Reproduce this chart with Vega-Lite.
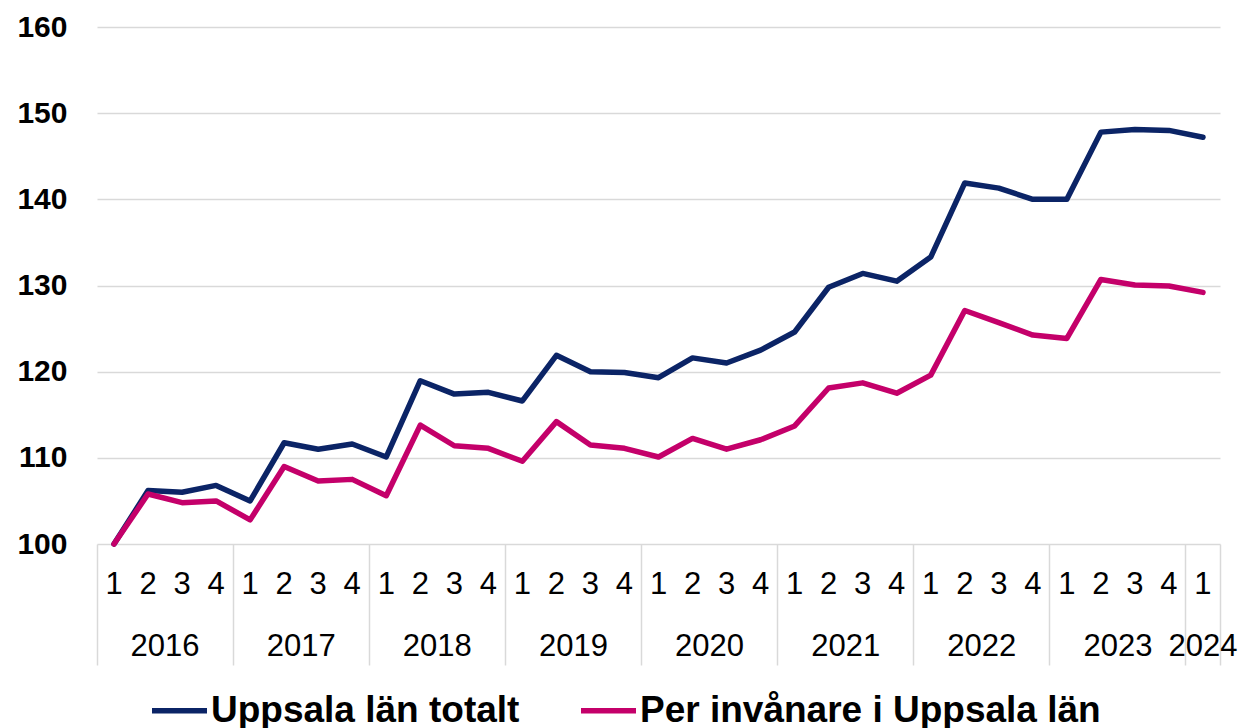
{
  "$schema": "https://vega.github.io/schema/vega-lite/v6.json",
  "autosize": {"type": "none"},
  "padding": {"left": 97, "top": 27, "right": 20, "bottom": 184},
  "width": 1123,
  "height": 517,
  "config": {"view": {"stroke": null}, "font": "Liberation Sans", "axis": {"labelFont": "Liberation Sans"}, "legend": {"labelFont": "Liberation Sans"}},
  "data": {"values": [
    {"period": "2016-1", "serie": "Uppsala län totalt", "value": 100},
    {"period": "2016-2", "serie": "Uppsala län totalt", "value": 106.2},
    {"period": "2016-3", "serie": "Uppsala län totalt", "value": 106.0},
    {"period": "2016-4", "serie": "Uppsala län totalt", "value": 106.8},
    {"period": "2017-1", "serie": "Uppsala län totalt", "value": 105.0},
    {"period": "2017-2", "serie": "Uppsala län totalt", "value": 111.75},
    {"period": "2017-3", "serie": "Uppsala län totalt", "value": 111.0},
    {"period": "2017-4", "serie": "Uppsala län totalt", "value": 111.6},
    {"period": "2018-1", "serie": "Uppsala län totalt", "value": 110.1},
    {"period": "2018-2", "serie": "Uppsala län totalt", "value": 118.95},
    {"period": "2018-3", "serie": "Uppsala län totalt", "value": 117.4},
    {"period": "2018-4", "serie": "Uppsala län totalt", "value": 117.6},
    {"period": "2019-1", "serie": "Uppsala län totalt", "value": 116.6},
    {"period": "2019-2", "serie": "Uppsala län totalt", "value": 121.9},
    {"period": "2019-3", "serie": "Uppsala län totalt", "value": 120.0},
    {"period": "2019-4", "serie": "Uppsala län totalt", "value": 119.9},
    {"period": "2020-1", "serie": "Uppsala län totalt", "value": 119.3},
    {"period": "2020-2", "serie": "Uppsala län totalt", "value": 121.6},
    {"period": "2020-3", "serie": "Uppsala län totalt", "value": 121.0},
    {"period": "2020-4", "serie": "Uppsala län totalt", "value": 122.5},
    {"period": "2021-1", "serie": "Uppsala län totalt", "value": 124.6},
    {"period": "2021-2", "serie": "Uppsala län totalt", "value": 129.8},
    {"period": "2021-3", "serie": "Uppsala län totalt", "value": 131.4},
    {"period": "2021-4", "serie": "Uppsala län totalt", "value": 130.5},
    {"period": "2022-1", "serie": "Uppsala län totalt", "value": 133.3},
    {"period": "2022-2", "serie": "Uppsala län totalt", "value": 141.9},
    {"period": "2022-3", "serie": "Uppsala län totalt", "value": 141.3},
    {"period": "2022-4", "serie": "Uppsala län totalt", "value": 140.0},
    {"period": "2023-1", "serie": "Uppsala län totalt", "value": 140.0},
    {"period": "2023-2", "serie": "Uppsala län totalt", "value": 147.8},
    {"period": "2023-3", "serie": "Uppsala län totalt", "value": 148.1},
    {"period": "2023-4", "serie": "Uppsala län totalt", "value": 148.0},
    {"period": "2024-1", "serie": "Uppsala län totalt", "value": 147.2},
    {"period": "2016-1", "serie": "Per invånare i Uppsala län", "value": 100},
    {"period": "2016-2", "serie": "Per invånare i Uppsala län", "value": 105.8},
    {"period": "2016-3", "serie": "Per invånare i Uppsala län", "value": 104.8},
    {"period": "2016-4", "serie": "Per invånare i Uppsala län", "value": 105.0},
    {"period": "2017-1", "serie": "Per invånare i Uppsala län", "value": 102.8},
    {"period": "2017-2", "serie": "Per invånare i Uppsala län", "value": 109.0},
    {"period": "2017-3", "serie": "Per invånare i Uppsala län", "value": 107.3},
    {"period": "2017-4", "serie": "Per invånare i Uppsala län", "value": 107.5},
    {"period": "2018-1", "serie": "Per invånare i Uppsala län", "value": 105.6},
    {"period": "2018-2", "serie": "Per invånare i Uppsala län", "value": 113.8},
    {"period": "2018-3", "serie": "Per invånare i Uppsala län", "value": 111.4},
    {"period": "2018-4", "serie": "Per invånare i Uppsala län", "value": 111.1},
    {"period": "2019-1", "serie": "Per invånare i Uppsala län", "value": 109.6},
    {"period": "2019-2", "serie": "Per invånare i Uppsala län", "value": 114.2},
    {"period": "2019-3", "serie": "Per invånare i Uppsala län", "value": 111.5},
    {"period": "2019-4", "serie": "Per invånare i Uppsala län", "value": 111.1},
    {"period": "2020-1", "serie": "Per invånare i Uppsala län", "value": 110.1},
    {"period": "2020-2", "serie": "Per invånare i Uppsala län", "value": 112.25},
    {"period": "2020-3", "serie": "Per invånare i Uppsala län", "value": 111.0},
    {"period": "2020-4", "serie": "Per invånare i Uppsala län", "value": 112.1},
    {"period": "2021-1", "serie": "Per invånare i Uppsala län", "value": 113.7},
    {"period": "2021-2", "serie": "Per invånare i Uppsala län", "value": 118.1},
    {"period": "2021-3", "serie": "Per invånare i Uppsala län", "value": 118.7},
    {"period": "2021-4", "serie": "Per invånare i Uppsala län", "value": 117.5},
    {"period": "2022-1", "serie": "Per invånare i Uppsala län", "value": 119.6},
    {"period": "2022-2", "serie": "Per invånare i Uppsala län", "value": 127.1},
    {"period": "2022-3", "serie": "Per invånare i Uppsala län", "value": 125.7},
    {"period": "2022-4", "serie": "Per invånare i Uppsala län", "value": 124.25},
    {"period": "2023-1", "serie": "Per invånare i Uppsala län", "value": 123.85},
    {"period": "2023-2", "serie": "Per invånare i Uppsala län", "value": 130.7},
    {"period": "2023-3", "serie": "Per invånare i Uppsala län", "value": 130.05},
    {"period": "2023-4", "serie": "Per invånare i Uppsala län", "value": 129.95},
    {"period": "2024-1", "serie": "Per invånare i Uppsala län", "value": 129.2}
  ]},
  "resolve": {"axis": {"x": "independent"}},
  "layer": [
    {
      "mark": {"type": "point", "opacity": 0},
      "encoding": {
        "x": {"field": "period", "type": "ordinal", "sort": null,
          "scale": {"type": "band", "paddingInner": 0, "paddingOuter": 0},
          "axis": {"orient": "bottom", "title": null, "domain": false, "labels": false, "grid": false,
            "ticks": true, "tickSize": 121, "tickColor": "#d9d9d9", "tickWidth": 1.5, "bandPosition": 0,
            "values": ["2016-1", "2017-1", "2018-1", "2019-1", "2020-1", "2021-1", "2022-1", "2023-1", "2024-1"]}}
      }
    },
    {
      "mark": {"type": "point", "opacity": 0},
      "encoding": {
        "x": {"field": "period", "type": "ordinal", "sort": null,
          "axis": {"orient": "bottom", "title": null, "domain": false, "labels": false, "grid": false,
            "ticks": true, "tickSize": 121, "tickColor": "#d9d9d9", "tickWidth": 1.5, "bandPosition": 1,
            "values": ["2024-1"]}}
      }
    },
    {
      "mark": {"type": "point", "opacity": 0},
      "encoding": {
        "x": {"field": "period", "type": "ordinal", "sort": null,
          "axis": {"orient": "bottom", "title": null, "domain": false, "ticks": false, "grid": false,
            "values": ["2016-2", "2017-2", "2018-2", "2019-2", "2020-2", "2021-2", "2022-2", "2023-2", "2024-1"],
            "labelExpr": "split(datum.value, '-')[0]",
            "labelFontSize": 31, "labelColor": "#000000", "labelBaseline": "middle", "labelPadding": 102,
            "labelOffset": {"condition": {"test": "datum.value === '2024-1'", "value": 0}, "value": 17},
            "labelAngle": 0, "labelOverlap": false, "labelBound": false, "labelFlush": false}}
      }
    },
    {
      "mark": {"type": "line", "strokeWidth": 5.5, "strokeCap": "round", "strokeJoin": "round"},
      "encoding": {
        "x": {"field": "period", "type": "ordinal", "sort": null,
          "axis": {"orient": "bottom", "title": null, "domain": false, "ticks": false, "grid": false,
            "labelExpr": "split(datum.value, '-')[1]",
            "labelFontSize": 31, "labelColor": "#000000", "labelBaseline": "middle", "labelPadding": 40,
            "labelAngle": 0, "labelOverlap": false, "labelFlush": false}},
        "y": {"field": "value", "type": "quantitative",
          "scale": {"domain": [100, 160], "nice": false, "zero": false},
          "axis": {"title": null, "values": [100, 110, 120, 130, 140, 150, 160], "domain": false, "ticks": false,
            "grid": true, "gridColor": "#d9d9d9", "gridWidth": 1.5,
            "labelFontSize": 30, "labelFontWeight": "bold", "labelColor": "#000000", "labelPadding": 30}},
        "color": {"field": "serie", "type": "nominal",
          "scale": {"domain": ["Uppsala län totalt", "Per invånare i Uppsala län"], "range": ["#0B2466", "#C4006A"]},
          "legend": {"title": null, "orient": "none", "legendX": 52, "legendY": 653, "direction": "horizontal",
            "symbolType": "stroke", "symbolSize": 3025, "symbolStrokeWidth": 5.5, "labelFontSize": 37,
            "labelFontWeight": "bold", "labelColor": "#000000", "labelLimit": 1000, "columnPadding": 50,
            "labelOffset": 1, "padding": 0}}
      }
    }
  ]
}
